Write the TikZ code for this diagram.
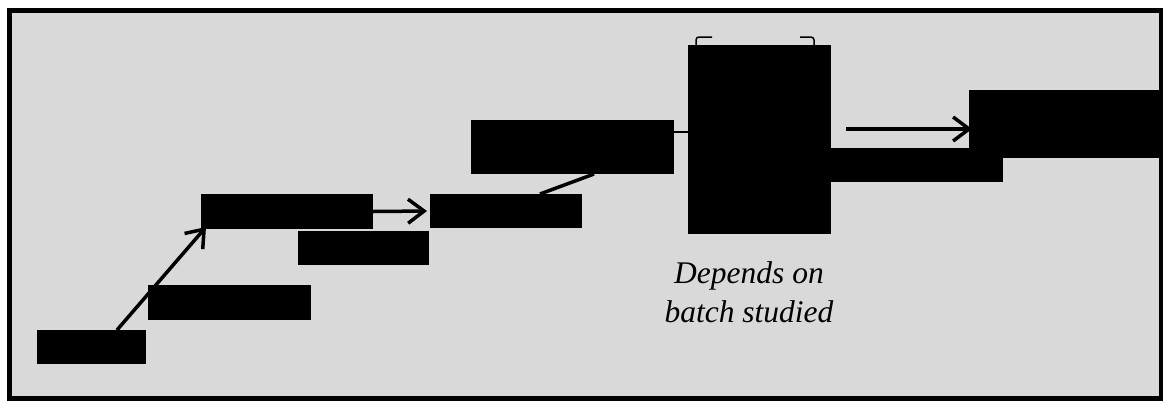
\documentclass[tikz,border=0pt]{standalone}
\usepackage{fontspec}
\setmainfont{Liberation Serif}
\usetikzlibrary{arrows.meta}

\pgfdeclarelayer{background}
\pgfdeclarelayer{links}
\pgfsetlayers{background,links,main}

\definecolor{panel}{RGB}{217,217,217}

\tikzset{
  block/.style={fill=black, draw=none, inner sep=0pt, outer sep=0pt, rectangle},
  link/.style={line width=3.5pt, draw=black},
  arr/.style={link, -{Straight Barb[length=16pt, width=24pt, line width=3.5pt]}},
  brace/.style={line width=1.5pt, rounded corners=3pt},
  note/.style={align=center, font=\fontsize{31.5}{39}\selectfont\itshape, inner sep=0pt}
}

\begin{document}
\begin{tikzpicture}[x=1pt, y=-1pt]
  % page extent
  \useasboundingbox (0,0) rectangle (1163,400);

  % blocks
  \node[block, minimum width=109pt, minimum height=34pt] (A) at (91.5,347) {};
  \node[block, minimum width=163pt, minimum height=35pt] (B) at (229.5,302.5) {};
  \node[block, minimum width=172pt, minimum height=35pt] (C) at (287,211.5) {};
  \node[block, minimum width=131pt, minimum height=34pt] (D) at (363.5,248) {};
  \node[block, minimum width=152pt, minimum height=34pt] (E) at (506,211) {};
  \node[block, minimum width=203pt, minimum height=54pt] (F) at (572.5,147) {};
  \node[block, minimum width=143pt, minimum height=189pt] (G) at (759.5,139.5) {};
  \node[block, minimum width=183pt, minimum height=34pt] (H) at (911.5,165) {};
  \node[block, minimum width=194pt, minimum height=68pt] (I) at (1066,124) {};

  % caption under the tall block (base = baseline of its last line)
  \node[note, anchor=base] (T) at (749,322) {Depends on\\batch studied};

  % bracket over the tall block
  \draw[brace] ([xshift=8pt]G.north west) -- ++(0,-8) -- ++(16,0);
  \draw[brace] ([xshift=-17pt]G.north east) -- ++(0,-8) -- ++(-14,0);

  % connectors, kept behind the blocks
  \begin{pgfonlayer}{links}
    \draw[arr] ([xshift=25.5pt]A.north) -- ([xshift=5pt,yshift=2pt]C.south west);
    \draw[arr, shorten >=3pt] (C.east) -- (E.west);
    \draw[link] ([xshift=34pt]E.north) -- ([xshift=21.5pt]F.south);
    \draw[link, line width=2pt] ([yshift=7.5pt]G.west) -- ([yshift=15pt]F.east);
    \draw[arr] ([xshift=15pt,yshift=10.5pt]G.east) -- ([xshift=3pt,yshift=-5pt]I.west);
  \end{pgfonlayer}

  % framed panel
  \begin{pgfonlayer}{background}
    \filldraw[fill=panel, draw=black, line width=5pt] (9,10.5) rectangle (1161.5,398.5);
  \end{pgfonlayer}
\end{tikzpicture}
\end{document}
